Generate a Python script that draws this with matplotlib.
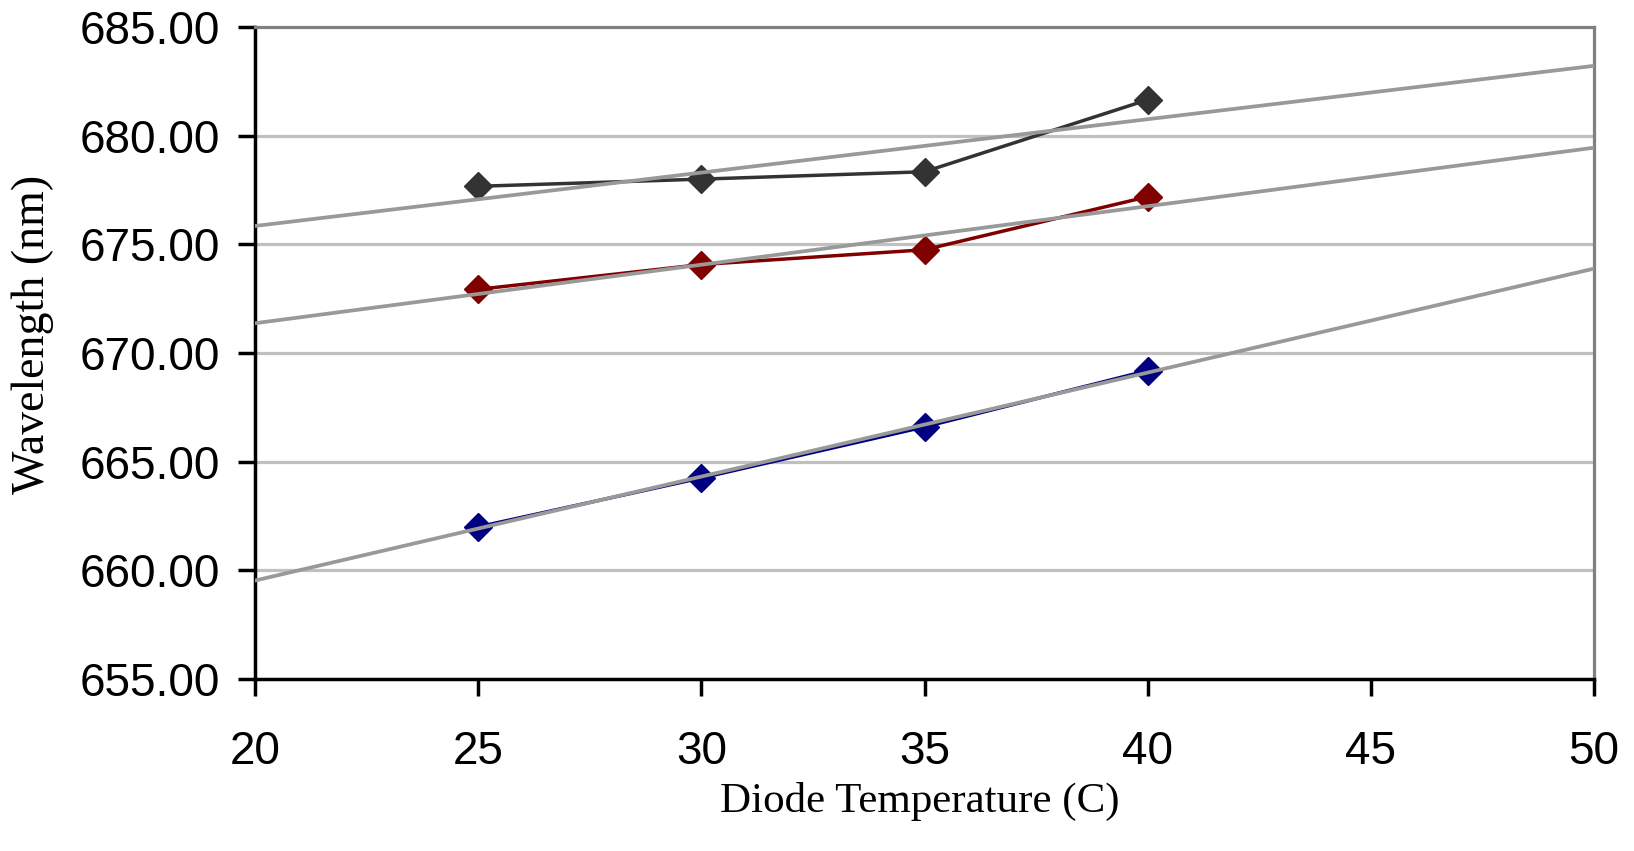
import numpy as np
import matplotlib
matplotlib.use("Agg")
import matplotlib.pyplot as plt

temps = [25, 30, 35, 40]
series_black = [677.67, 678.00, 678.34, 681.65]
series_red = [672.93, 674.07, 674.75, 677.19]
series_blue = [662.00, 664.25, 666.60, 669.19]
xticks = [20, 25, 30, 35, 40, 45, 50]
yticks = [655, 660, 665, 670, 675, 680, 685]

W, H = 1634, 851
fig = plt.figure(figsize=(W / 100, H / 100), dpi=100)
ax = fig.add_axes([255 / W, 1 - 679 / H, (1594 - 255) / W, (679 - 27) / H])

ax.set_xlim(20, 50)
ax.set_ylim(655, 685)
ax.set_xticks(xticks)
ax.set_yticks(yticks)
ax.set_yticklabels([f"{v:.2f}" for v in yticks])

for y in yticks[1:-1]:
    ax.axhline(y, color="#c0c0c0", lw=2.3, zorder=1)

xfit = np.array([20, 50])
for ys, col in [(series_black, "#333333"), (series_red, "#800000"), (series_blue, "#000080")]:
    ax.plot(temps, ys, color=col, lw=2.5, marker="D", ms=14, mec=col, mfc=col, zorder=3, clip_on=False)
for ys in [series_black, series_red, series_blue]:
    m, b = np.polyfit(temps, ys, 1)
    ax.plot(xfit, m * xfit + b, color="#999999", lw=2.7, zorder=4)

for s in ["top", "right"]:
    ax.spines[s].set_color("#808080")
    ax.spines[s].set_linewidth(2.3)
for s in ["left", "bottom"]:
    ax.spines[s].set_color("black")
    ax.spines[s].set_linewidth(2.5)

ax.tick_params(axis="both", direction="out", length=12, width=2.5, color="black")
ax.tick_params(axis="y", pad=13)
ax.tick_params(axis="x", pad=25)
for lab in ax.get_xticklabels() + ax.get_yticklabels():
    lab.set_fontfamily(["Liberation Sans", "DejaVu Sans"])
    lab.set_fontsize(33)

serif = ["Liberation Serif", "DejaVu Serif"]
fig.text(920 / W, 1 - 801 / H, "Diode Temperature (C)", ha="center", va="center", family=serif, size=31)
fig.text(33 / W, 1 - 334 / H, "Wavelength (nm)", ha="center", va="center", rotation=90, family=serif, size=33)

fig.savefig("out.png", dpi=100)
